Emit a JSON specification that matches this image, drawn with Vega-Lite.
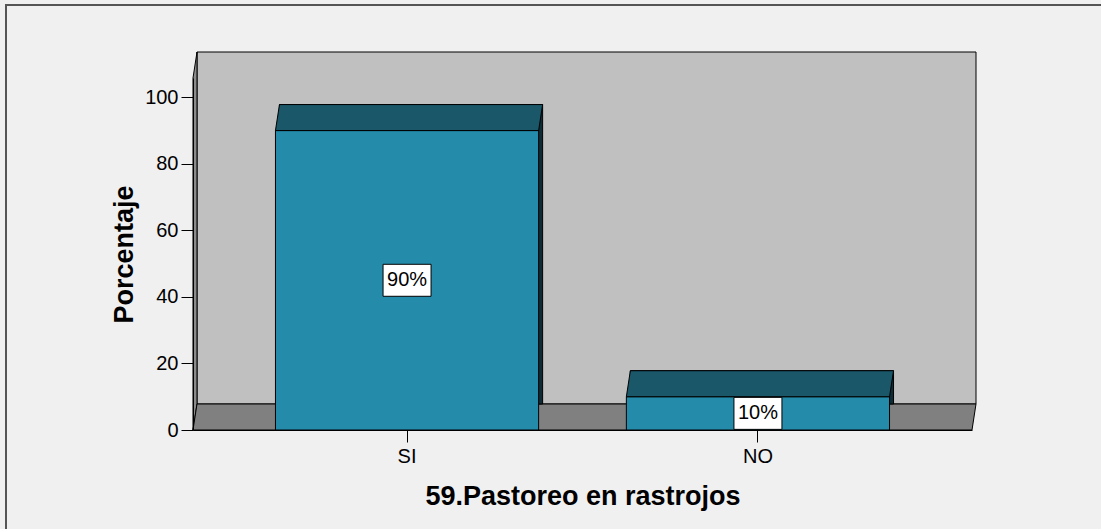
{
  "$schema": "https://vega.github.io/schema/vega-lite/v6.json",
  "width": 779,
  "height": 352,
  "autosize": {"type": "none"},
  "padding": {"left": 193, "top": 78, "right": 129, "bottom": 99},
  "background": "#f0f0f0",
  "config": {"view": {"stroke": null}, "font": "Liberation Sans"},
  "data": {
    "values": [
      {"respuesta": "SI", "porcentaje": 90},
      {"respuesta": "NO", "porcentaje": 10}
    ]
  },
  "encoding": {
    "x": {
      "field": "respuesta",
      "type": "nominal",
      "sort": ["SI", "NO"],
      "scale": {"paddingInner": 0.25, "paddingOuter": 0.235},
      "axis": {
        "title": "59.Pastoreo en rastrojos",
        "titleFont": "Liberation Sans",
        "titleFontSize": 27,
        "titleFontWeight": "bold",
        "titleColor": "#000",
        "titlePadding": 17,
        "labelFont": "Liberation Sans",
        "labelFontSize": 20,
        "labelColor": "#000",
        "labelAngle": 0,
        "labelPadding": 4,
        "tickSize": 12,
        "tickColor": "#000",
        "domainColor": "#000",
        "zindex": 1
      }
    }
  },
  "layer": [
    {
      "data": {"values": [{}]},
      "mark": {"type": "rect", "fillOpacity": 0, "stroke": "#555", "strokeWidth": 2},
      "encoding": {
        "x": {"value": -187},
        "x2": {"value": 1000},
        "y": {"value": -73},
        "y2": {"value": 600}
      }
    },
    {
      "data": {"values": [{}]},
      "mark": {
        "type": "rect",
        "fill": "#c0c0c0",
        "stroke": "#000",
        "strokeWidth": 1,
        "xOffset": 4,
        "x2Offset": 4,
        "yOffset": -26,
        "y2Offset": -26
      },
      "encoding": {
        "x": {"value": 0},
        "x2": {"value": "width"},
        "y": {"value": 0},
        "y2": {"value": "height"}
      }
    },
    {
      "data": {"values": [{}]},
      "mark": {
        "type": "point",
        "shape": "M -0.0106 1 L -0.0106 -0.8624 L 0.0106 -1 L 0.0106 0.8624 Z",
        "size": 142884,
        "filled": true,
        "opacity": 1,
        "fill": "#8c8c8c",
        "stroke": "#000",
        "strokeWidth": 1,
        "xOffset": 2,
        "yOffset": -13
      },
      "encoding": {
        "x": {"value": 0},
        "y": {"value": {"expr": "height / 2"}}
      }
    },
    {
      "data": {"values": [{}]},
      "mark": {
        "type": "point",
        "shape": "M -1 0.0332 L 0.9898 0.0332 L 1 -0.0332 L -0.9898 -0.0332 Z",
        "size": 613089,
        "filled": true,
        "opacity": 1,
        "fill": "#808080",
        "stroke": "#000",
        "strokeWidth": 1,
        "xOffset": 2,
        "yOffset": -13
      },
      "encoding": {
        "x": {"value": {"expr": "width / 2"}},
        "y": {"value": "height"}
      }
    },
    {
      "mark": {
        "type": "bar",
        "fill": "#0e2c36",
        "stroke": "#000",
        "strokeWidth": 1,
        "xOffset": 4,
        "x2Offset": 4,
        "yOffset": -26,
        "y2Offset": -26
      },
      "encoding": {
        "y": {
          "field": "porcentaje",
          "type": "quantitative",
          "scale": {"domain": [0, 105.8], "nice": false},
          "axis": null
        }
      }
    },
    {
      "mark": {"type": "bar", "fill": "#248bab", "stroke": "#000", "strokeWidth": 1},
      "encoding": {
        "y": {
          "field": "porcentaje",
          "type": "quantitative",
          "scale": {"domain": [0, 105.8], "nice": false},
          "axis": {
            "title": "Porcentaje",
            "titleFont": "Liberation Sans",
            "titleFontSize": 27,
            "titleFontWeight": "bold",
            "titleColor": "#000",
            "titlePadding": 6,
            "labelFont": "Liberation Sans",
            "labelFontSize": 20,
            "labelColor": "#000",
            "labelPadding": 3,
            "tickSize": 12,
            "tickColor": "#000",
            "domainColor": "#000",
            "values": [0, 20, 40, 60, 80, 100],
            "grid": false,
            "zindex": 1
          }
        }
      }
    },
    {
      "mark": {
        "type": "point",
        "shape": "M -1 0.0973 L 0.9701 0.0973 L 1 -0.0973 L -0.9701 -0.0973 Z",
        "size": 71385,
        "filled": true,
        "opacity": 1,
        "fill": "#195769",
        "stroke": "#000",
        "strokeWidth": 1,
        "xOffset": 2,
        "yOffset": -13
      },
      "encoding": {
        "y": {
          "field": "porcentaje",
          "type": "quantitative",
          "scale": {"domain": [0, 105.8], "nice": false},
          "axis": null
        }
      }
    },
    {
      "mark": {
        "type": "point",
        "shape": "M -1 -0.6667 L 1 -0.6667 L 1 0.6667 L -1 0.6667 Z",
        "size": 2304,
        "filled": true,
        "opacity": 1,
        "fill": "#ffffff",
        "stroke": "#000",
        "strokeWidth": 1
      },
      "encoding": {
        "y": {
          "field": "porcentaje",
          "type": "quantitative",
          "scale": {"domain": [0, 211.6], "nice": false},
          "axis": null
        }
      }
    },
    {
      "mark": {
        "type": "text",
        "text": {"expr": "datum.porcentaje + '%'"},
        "font": "Liberation Sans",
        "fontSize": 20,
        "fill": "#000",
        "align": "center",
        "baseline": "middle"
      },
      "encoding": {
        "y": {
          "field": "porcentaje",
          "type": "quantitative",
          "scale": {"domain": [0, 211.6], "nice": false},
          "axis": null
        }
      }
    }
  ],
  "resolve": {"scale": {"y": "independent"}}
}
